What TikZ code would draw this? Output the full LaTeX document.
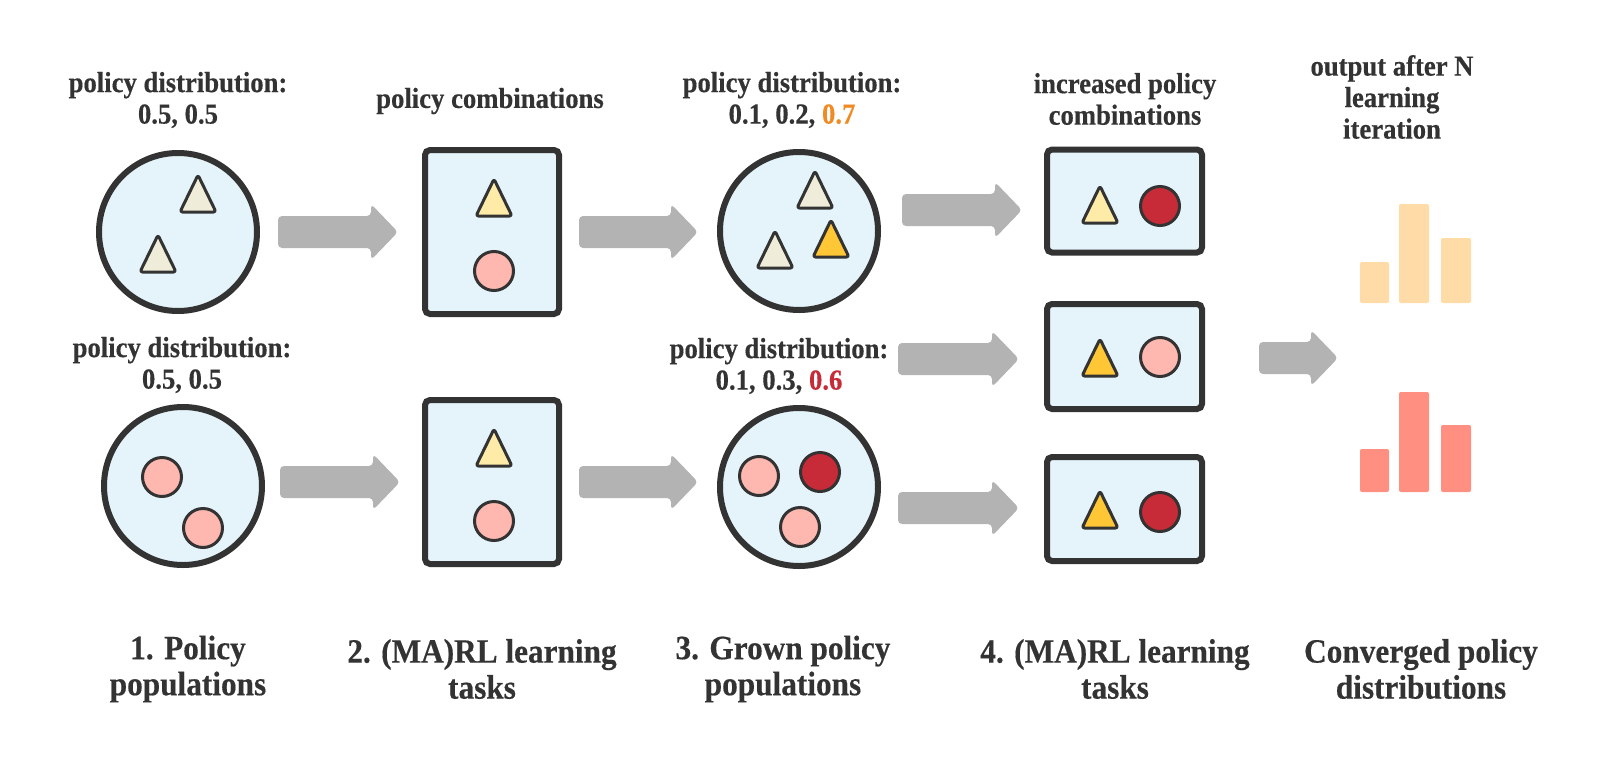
\documentclass[tikz,border=0pt]{standalone}
\usepackage{fontspec}
\newfontfamily\labelfont{Liberation Serif}[UprightFont=* Bold, FakeStretch=0.92, FakeBold=0.4]

\definecolor{inkgray}{HTML}{333333}
\definecolor{popblue}{HTML}{E5F4FB}
\definecolor{arrowgray}{HTML}{B3B3B3}
\definecolor{paletri}{HTML}{EFEDD9}
\definecolor{lighttri}{HTML}{FFEBA8}
\definecolor{goldtri}{HTML}{FFC635}
\definecolor{pinkdot}{HTML}{FFB8B0}
\definecolor{reddot}{HTML}{C72B38}
\definecolor{orangetxt}{HTML}{F08A24}
\definecolor{barorange}{HTML}{FFDBA8}
\definecolor{barsalmon}{HTML}{FF8F80}

% small policy shapes and block arrows
\newcommand{\policytri}[3]{\draw[line width=3pt,draw=inkgray,fill=#3,rounded corners=2.5pt,line join=round] (#1,#2+37) -- (#1-18,#2+37) -- (#1,#2) -- (#1+18,#2+37) -- cycle;}
\newcommand{\policydot}[3]{\draw[line width=3pt,draw=inkgray,fill=#3] (#1,#2) circle[radius=19.5];}
\newcommand{\flowarrow}[3]{\fill[arrowgray,rounded corners=4pt] (#1,#3) -- (#1,#3-16) -- (#2-27,#3-16) -- (#2-27,#3-28) -- (#2,#3) -- (#2-27,#3+28) -- (#2-27,#3+16) -- (#1,#3+16) -- cycle;}

\begin{document}
\begin{tikzpicture}[x=1pt,y=-1pt,
    container/.style={draw=inkgray,line width=6pt,fill=popblue},
    popcircle/.style={container,circle,minimum size=158pt,inner sep=0pt},
    taskbox/.style={container,rectangle,rounded corners=5pt,inner sep=0pt},
    caption/.style={font=\labelfont\fontsize{29}{31.5}\selectfont,text=inkgray,align=center},
    stage/.style={font=\labelfont\fontsize{34}{36}\selectfont,text=inkgray,align=center}]
  \useasboundingbox (0,0) rectangle (1615,774);

  % containers
  \node[popcircle] (popA) at (178,232) {};
  \node[popcircle] (popB) at (183,486) {};
  \node[taskbox,minimum width=134pt,minimum height=164pt] (taskA) at (492,232) {};
  \node[taskbox,minimum width=134pt,minimum height=164pt] (taskB) at (492,482) {};
  \node[popcircle] (grownA) at (799,231) {};
  \node[popcircle] (grownB) at (799,487) {};
  \node[taskbox,minimum width=155pt,minimum height=103pt] (comboA) at (1124.5,201) {};
  \node[taskbox,minimum width=155pt,minimum height=105pt] (comboB) at (1124.5,356.5) {};
  \node[taskbox,minimum width=155pt,minimum height=104pt] (comboC) at (1124.5,509) {};

  % policies
  \policytri{198}{175}{paletri}
  \policytri{158}{235}{paletri}
  \policydot{162}{477}{pinkdot}
  \policydot{203}{528}{pinkdot}

  \policytri{494}{179}{lighttri}
  \policydot{494}{271}{pinkdot}
  \policytri{494}{429}{lighttri}
  \policydot{494}{521}{pinkdot}

  \policytri{815}{171}{paletri}
  \policytri{775}{231}{paletri}
  \policytri{831}{220}{goldtri}
  \policydot{759}{476}{pinkdot}
  \policydot{820}{472}{reddot}
  \policydot{800}{527}{pinkdot}

  \policytri{1100}{186}{lighttri}
  \policydot{1160}{206}{reddot}
  \policytri{1100}{339}{goldtri}
  \policydot{1160}{357}{pinkdot}
  \policytri{1100}{491}{goldtri}
  \policydot{1160}{512}{reddot}

  % block arrows
  \flowarrow{278}{398}{232}
  \flowarrow{280}{400}{482}
  \flowarrow{579}{698}{232}
  \flowarrow{579}{698}{482}
  \flowarrow{902}{1022}{210}
  \flowarrow{898}{1019}{359}
  \flowarrow{898}{1019}{508}
  \flowarrow{1259}{1338}{358}

  % converged distributions
  \fill[barorange,rounded corners=2pt] (1360,262) rectangle (1389,303);
  \fill[barorange,rounded corners=2pt] (1399,204) rectangle (1429,303);
  \fill[barorange,rounded corners=2pt] (1441,238) rectangle (1471,303);
  \fill[barsalmon,rounded corners=2pt] (1360,449) rectangle (1389,492);
  \fill[barsalmon,rounded corners=2pt] (1399,392) rectangle (1429,492);
  \fill[barsalmon,rounded corners=2pt] (1441,425) rectangle (1471,492);

  % captions
  \node[caption] (distA) at (178,100) {policy distribution:\\0.5, 0.5};
  \node[caption] (distB) at (182,365) {policy distribution:\\0.5, 0.5};
  \node[caption] (combos) at (490,101) {policy combinations};
  \node[caption] (distC) at (792,100) {policy distribution:\\0.1, 0.2, \textcolor{orangetxt}{0.7}};
  \node[caption] (distD) at (779,366) {policy distribution:\\0.1, 0.3, \textcolor{reddot}{0.6}};
  \node[caption] (morecombos) at (1125,99) {increased policy\\combinations};
  \node[caption] (output) at (1392,97) {output after N\\learning\\iteration};

  % stage labels
  \node[stage] (stage1) at (188,669) {1. Policy\\populations};
  \node[stage] (stage2) at (482,669) {2. (MA)RL learning\\tasks};
  \node[stage] (stage3) at (783,669) {3. Grown policy\\populations};
  \node[stage] (stage4) at (1115,669) {4. (MA)RL learning\\tasks};
  \node[stage] (stage5) at (1421,669) {Converged policy\\distributions};
\end{tikzpicture}
\end{document}
